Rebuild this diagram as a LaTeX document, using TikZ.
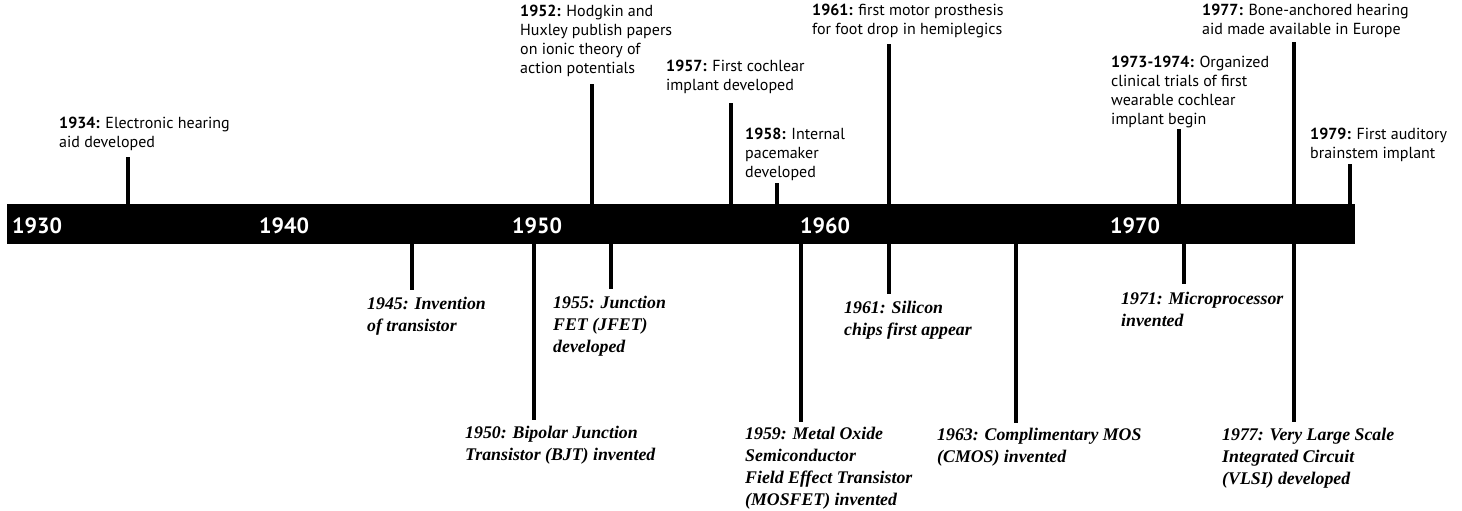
\documentclass[tikz,border=0pt]{standalone}
\usepackage{fontspec}
\newfontfamily\sanslab{PT Sans}
\newfontfamily\seriflab{Liberation Serif}
\begin{document}
\begin{tikzpicture}[x=1pt,y=-1pt,
  tick/.style={line width=4pt,black},
  bar/.style={fill=black,inner sep=0pt,minimum width=1348pt,minimum height=40pt,anchor=north west},
  yearlab/.style={text=white,font=\sanslab\bfseries\fontsize{22}{24}\selectfont,anchor=base west,inner sep=0pt},
  toplab/.style={font=\sanslab\fontsize{16}{19}\selectfont,anchor=base west,align=left,inner sep=0pt},
  botlab/.style={font=\seriflab\bfseries\itshape\fontsize{17.8}{21.8}\selectfont,anchor=base west,align=left,inner sep=0pt}]
\useasboundingbox (0,0) rectangle (1462,511);
\node[bar] (bar) at (7,204) {};
% decade labels
\node[yearlab] (y1930) at (12,233) {1930};
\node[yearlab] (y1940) at (259,233) {1940};
\node[yearlab] (y1950) at (512,233) {1950};
\node[yearlab] (y1960) at (800,233) {1960};
\node[yearlab] (y1970) at (1110,233) {1970};
% top events (anchored at the baseline of their last line)
\node[toplab] (e1934) at (59,147) {\textbf{1934:} Electronic hearing\\aid developed};
\node[toplab] (e1952) at (520,74) {\textbf{1952:} Hodgkin and\\Huxley publish papers\\on ionic theory of\\action potentials};
\node[toplab] (e1957) at (666,90) {\textbf{1957:} First cochlear\\implant developed};
\node[toplab] (e1958) at (745,177) {\textbf{1958:} Internal\\pacemaker\\developed};
\node[toplab] (e1961a) at (812,35) {\textbf{1961:} first motor prosthesis\\for foot drop in hemiplegics};
\node[toplab] (e1973) at (1111,124) {\textbf{1973-1974:} Organized\\clinical trials of first\\wearable cochlear\\implant begin};
\node[toplab] (e1977a) at (1202,35) {\textbf{1977:} Bone-anchored hearing\\aid made available in Europe};
\node[toplab] (e1979) at (1310,158) {\textbf{1979:} First auditory\\brainstem implant};
% bottom events
\node[botlab] (e1945) at (367,331) {1945: Invention\\of transistor};
\node[botlab] (e1955) at (553,352) {1955: Junction\\FET (JFET)\\developed};
\node[botlab] (e1950) at (465,460) {1950: Bipolar Junction\\Transistor (BJT) invented};
\node[botlab] (e1959) at (745,505) {1959: Metal Oxide\\Semiconductor\\Field Effect Transistor\\(MOSFET) invented};
\node[botlab] (e1961b) at (844,335) {1961: Silicon\\chips first appear};
\node[botlab] (e1963) at (937,462) {1963: Complimentary MOS\\(CMOS) invented};
\node[botlab] (e1971) at (1121,326) {1971: Microprocessor\\invented};
\node[botlab] (e1977b) at (1222,484) {1977: Very Large Scale\\Integrated Circuit\\(VLSI) developed};
% tick ends
\coordinate (t1934) at (128,157);
\coordinate (t1952) at (592,84);
\coordinate (t1957) at (731,103);
\coordinate (t1958) at (777,183);
\coordinate (t1961a) at (889,44);
\coordinate (t1973) at (1179,129);
\coordinate (t1977a) at (1294,42);
\coordinate (t1979) at (1350,164);
\coordinate (t1945) at (412,290);
\coordinate (t1950) at (534,420);
\coordinate (t1955) at (611,289);
\coordinate (t1959) at (801,422);
\coordinate (t1961b) at (889,294);
\coordinate (t1963) at (1016,423);
\coordinate (t1971) at (1184,284);
\coordinate (t1977b) at (1294,422);
\foreach \t in {t1934,t1952,t1957,t1958,t1961a,t1973,t1977a,t1979}
  \draw[tick] (bar.north -| \t) -- (\t);
\foreach \t in {t1945,t1950,t1955,t1959,t1961b,t1963,t1971,t1977b}
  \draw[tick] (bar.south -| \t) -- (\t);
\end{tikzpicture}
\end{document}
